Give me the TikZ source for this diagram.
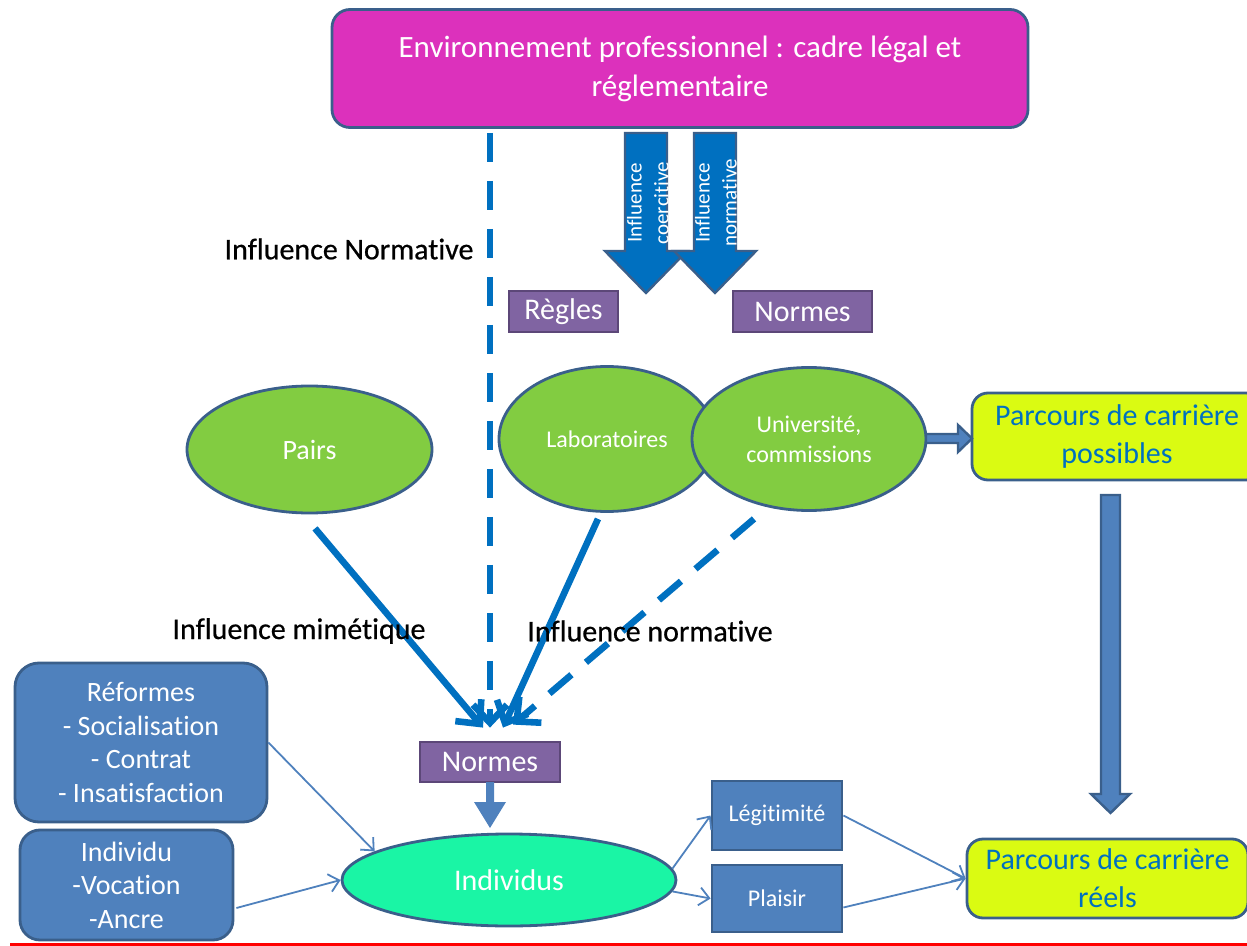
\documentclass[tikz,border=0pt]{standalone}
\usepackage{fontspec}
\setmainfont{Carlito}[Ligatures=NoCommon]
\newfontfamily\lblfont{Carlito}[FakeBold=0.6, Ligatures=NoCommon]
\usetikzlibrary{arrows.meta,calc,shapes.geometric}
\definecolor{bord}{HTML}{3A5F8B}
\definecolor{mag}{HTML}{DC31BC}
\definecolor{purp}{HTML}{8064A2}
\definecolor{purpb}{HTML}{5C4778}
\definecolor{grn}{HTML}{82CC41}
\definecolor{aqua}{HTML}{1AF5A5}
\definecolor{ylw}{HTML}{DAFB12}
\definecolor{bl}{HTML}{4F81BD}
\definecolor{bld}{HTML}{0070C0}
\begin{document}
\begin{tikzpicture}[x=0.5pt,y=-0.5pt,
 box/.style={draw=bord, line width=1.4pt, text=white, align=center, inner sep=0pt},
 lab/.style={fill=purp, draw=purpb, line width=1.4pt, text=white, inner sep=0pt, font=\fontsize{15}{18}\selectfont},
 ell/.style={ellipse, draw=bord, line width=1.4pt, fill=grn, text=white, align=center, inner sep=0pt},
 infl/.style={draw=bld, line width=3.3pt, -{Straight Barb[length=9pt,width=17pt]}},
 dsh/.style={infl, dash pattern=on 14.5pt off 9.5pt},
 thinar/.style={draw=bl, line width=0.9pt, -{Straight Barb[length=5pt,width=9pt]}},
 blk/.style={fill=bl, draw=bord, line width=1.2pt, line join=miter},
 blkd/.style={fill=bld, draw=bord, line width=1.2pt},
 tl/.style={font=\lblfont\fontsize{15}{18}\selectfont, text=black, inner sep=0pt},
 arrtxt/.style={rotate=90, text=white, align=center, inner sep=0pt, font=\fontsize{10.5}{13.5}\selectfont}
]
\useasboundingbox (0,0) rectangle (1247,946);

% top box
\node[box, fill=mag, rounded corners=9pt, minimum width=348pt, minimum height=59pt,
      font=\fontsize{15.5}{19.5}\selectfont] (top) at (680,68.5)
      {Environnement professionnel : cadre légal et\\réglementaire};

% coercive / normative block arrows
\draw[blkd] (625,133) -- (667,133) -- (667,251) -- (687,251) -- (646,293) -- (605,251) -- (625,251) -- cycle;
\draw[blkd] (694,133) -- (736,133) -- (736,251) -- (756,251) -- (715,293) -- (674,251) -- (694,251) -- cycle;
\node[arrtxt] (ac) at (648,203) {Influence\\coercitive};
\node[arrtxt] (an) at (716,203) {Influence\\normative};

% labels
\node[lab, minimum width=54.5pt, minimum height=20.5pt] (regles) at (563.5,311.5) {Règles};
\node[lab, minimum width=69.5pt, minimum height=20.5pt] (normes1) at (802.5,311.5) {Normes};

% ellipses
\node[ell, minimum width=122.5pt, minimum height=63.5pt, font=\fontsize{14}{17}\selectfont] (pairs) at (309.5,449.5) {Pairs};
\node[ell, minimum width=108pt, minimum height=72.5pt, font=\fontsize{12}{15}\selectfont] (labs) at (607,439) {Laboratoires};
\node[ell, minimum width=117pt, minimum height=71.5pt, font=\fontsize{12}{15}\selectfont] (univ) at (809,439) {Université,\\commissions};

% career boxes
\node[box, fill=ylw, text=bld, rounded corners=8pt, minimum width=145pt, minimum height=43.5pt,
      font=\fontsize{15}{19}\selectfont] (poss) at (1117,436.5) {Parcours de carrière\\possibles};
\node[box, fill=ylw, text=bld, rounded corners=8pt, minimum width=140.5pt, minimum height=39.5pt,
      font=\fontsize{15}{19}\selectfont] (reels) at (1107.5,878.5) {Parcours de carrière\\réels};

% lower nodes
\node[lab, minimum width=70pt, minimum height=20pt] (normes2) at (490,762) {Normes};
\node[ell, fill=aqua, minimum width=167pt, minimum height=46pt, font=\fontsize{15}{18}\selectfont] (ind) at (509,880) {Individus};
\node[box, fill=bl, rounded corners=12pt, minimum width=126pt, minimum height=79.5pt,
      font=\fontsize{14}{16.8}\selectfont] (ref) at (141,742.5) {Réformes\\- Socialisation\\- Contrat\\- Insatisfaction};
\node[box, fill=bl, rounded corners=10pt, minimum width=106.5pt, minimum height=55pt,
      font=\fontsize{14}{16.8}\selectfont] (indiv) at (126.5,885) {Individu\\-Vocation\\-Ancre};
\node[box, fill=bl, minimum width=65pt, minimum height=34.5pt, font=\fontsize{12}{15}\selectfont] (leg) at (777,815.5) {Légitimité};
\node[box, fill=bl, minimum width=65pt, minimum height=33.5pt, font=\fontsize{12}{15}\selectfont] (pl) at (777,898.5) {Plaisir};

% influence connectors
\draw[dsh, shorten <=2pt, shorten >=6.5pt] (top.south -| normes2.north) -- (normes2.north);
\draw[infl] ($(pairs.south)+(5.5,14)$) -- ($(normes2.north)+(-7,-13)$);
\draw[infl] ($(labs.south)+(-9,6)$) -- ($(normes2.north)+(13,-13)$);
\draw[dsh] ($(univ.south)+(-55,7)$) -- ($(normes2.north)+(23,-16)$);

% block arrows
\draw[blk] (926,434) -- (958,434) -- (958,425) -- (972,438.5) -- (958,452) -- (958,443) -- (926,443) -- cycle;
\draw[blk] (1101,495) -- (1120,495) -- (1120,794) -- (1130,794) -- (1110.5,813) -- (1091,794) -- (1101,794) -- cycle;
\fill[bl] (486,782) -- (494,782) -- (494,802) -- (506,802) -- (490,828) -- (474,802) -- (486,802) -- cycle;

% thin connectors
\draw[thinar] (ref.east) -- (ind.168);
\draw[thinar] ($(indiv.east)+(2,23)$) -- (ind.west);
\draw[thinar] (ind.4) -- (leg.west);
\draw[thinar] (ind.-4) -- (pl.west);
\draw[thinar] (leg.east) -- (reels.west);
\draw[thinar] ($(pl.east)+(0,9)$) -- (reels.west);

% text labels
\node[tl] (ln) at (349,249) {Influence Normative};
\node[tl] (lm) at (299,631) {Influence mimétique};
\node[tl] (lnn) at (650,631) {Influence normative};

% red bottom line
\draw[red, line width=1.5pt] (10,944.5) -- (1247,944.5);
\end{tikzpicture}
\end{document}
